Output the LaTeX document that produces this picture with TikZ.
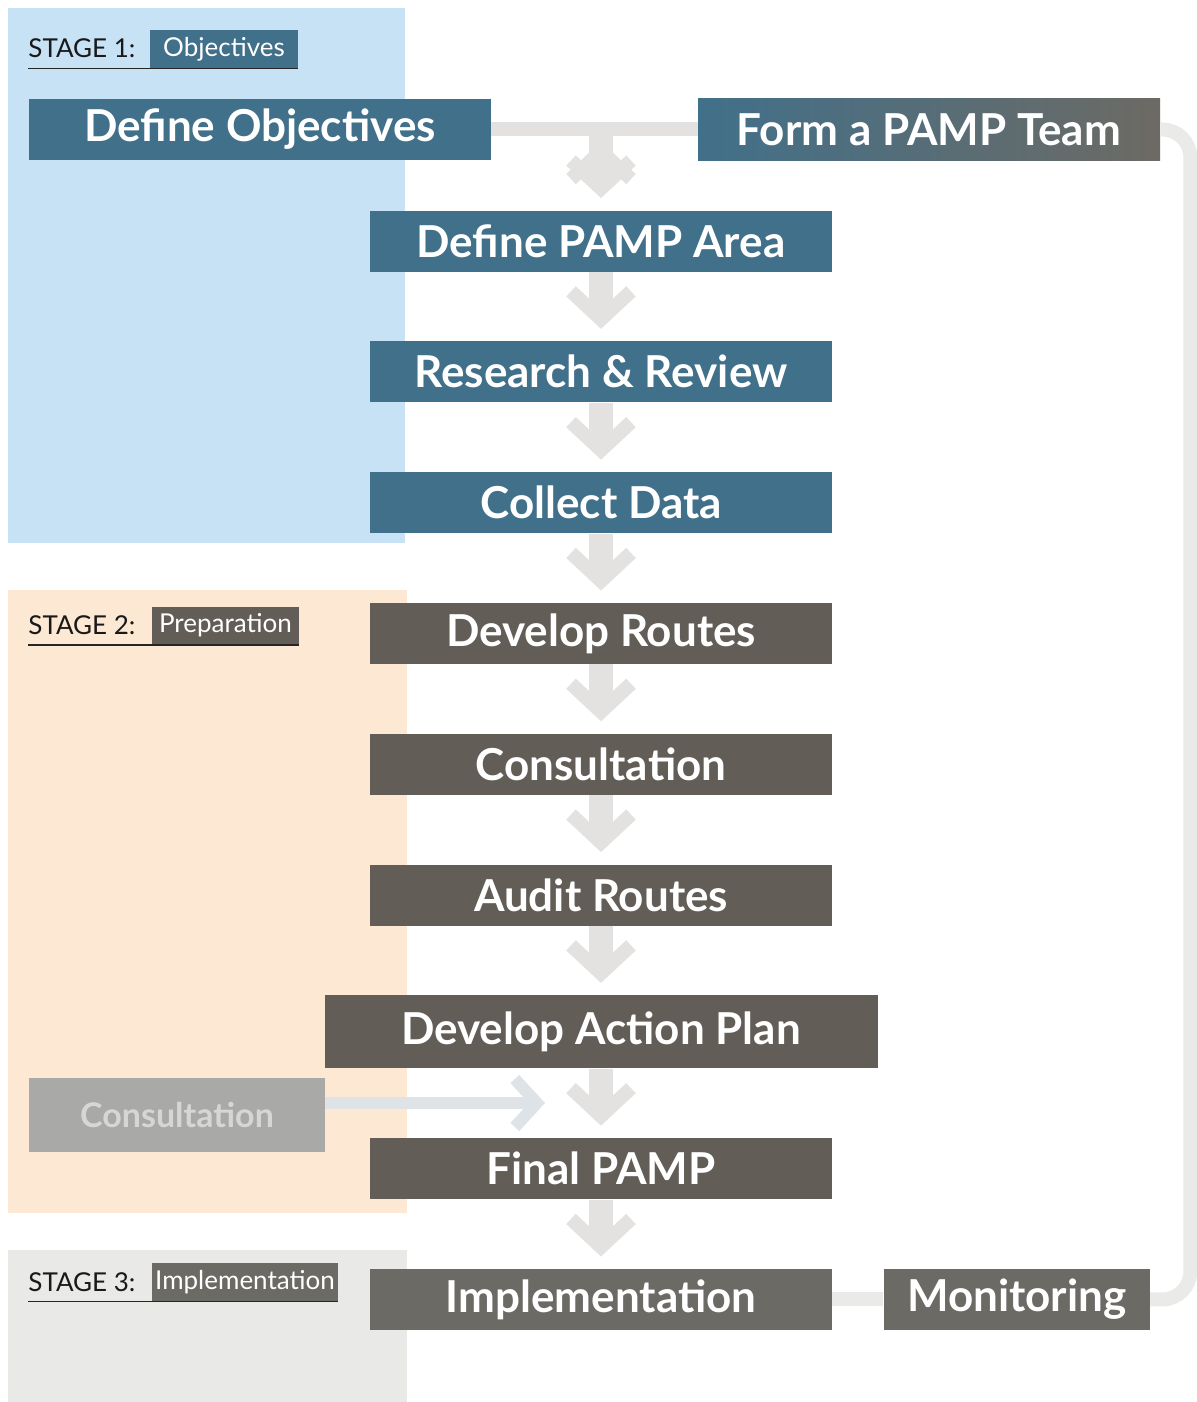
\documentclass[tikz,border=0pt]{standalone}
\usepackage{fontspec}
\setmainfont{Lato}
\usepackage{tikz}
\usetikzlibrary{positioning, calc}
\usetikzlibrary{arrows.meta}
\definecolor{pampblue}{HTML}{41708A}
\definecolor{pampdark}{HTML}{625D56}
\definecolor{pampgrey}{HTML}{6C6A64}
\definecolor{pamplight}{HTML}{A9A9A7}
\definecolor{bgblue}{HTML}{C7E1F5}
\definecolor{bgpeach}{HTML}{FDE9D3}
\definecolor{bggrey}{HTML}{E9E9E7}
\definecolor{flowgrey}{HTML}{E3E2E0}
\definecolor{loopgrey}{HTML}{EAEAE8}
\definecolor{consultflow}{HTML}{DDE3E7}
\tikzstyle{stepbox}=[rectangle,minimum width=231pt,minimum height=30.5pt,
text=white,inner sep=0pt,font=\fontsize{22}{26}\selectfont\bfseries]
\tikzstyle{bluebox}=[stepbox,fill=pampblue]
\tikzstyle{darkbox}=[stepbox,fill=pampdark]
\tikzstyle{greybox}=[stepbox,fill=pampgrey]
\tikzstyle{stagetext}=[anchor=west,inner sep=0pt,text=black!90,
font=\fontsize{13}{15}\selectfont]
\tikzstyle{stagebox}=[rectangle,inner sep=0pt,minimum height=19pt,text=white,
font=\fontsize{13}{15}\selectfont]
\tikzstyle{stageline}=[draw=black!85,line width=0.8pt]
\tikzstyle{flowpath} = [line width=12pt,draw=flowgrey,shorten >=6pt,
-{Straight Barb[length=14pt,width=30pt,line width=7pt]}]
\tikzstyle{linkpath} = [line width=7pt,draw=flowgrey]

\begin{document}
\begin{tikzpicture}[x=0.5pt,y=-0.5pt,node distance=34.5pt]
    \useasboundingbox (0,0) rectangle (1197,1402);
    % stage backgrounds
    \fill[bgblue] (8,8) rectangle (405,543);
    \fill[bgpeach] (8,590) rectangle (407,1213);
    \fill[bggrey] (8,1250) rectangle (407,1402);

    % stage labels
    \node[stagetext] (s1) at (28,48) {STAGE 1:};
    \node[stagebox, fill=pampblue, minimum width=74pt] (s1label) at (224,49) {Objectives};
    \draw[stageline] (s1.west |- s1label.south) -- (s1label.south east);

    \node[stagetext] (s2) at (28,625) {STAGE 2:};
    \node[stagebox, fill=pampdark, minimum width=73.5pt] (s2label) at (225.5,625.5) {Preparation};
    \draw[stageline] (s2.west |- s2label.south) -- (s2label.south east);

    \node[stagetext] (s3) at (28,1282) {STAGE 3:};
    \node[stagebox, fill=pampgrey, minimum width=93pt] (s3label) at (245,1282) {Implementation};
    \draw[stageline] (s3.west |- s3label.south) -- (s3label.south east);

    % top row
    \node[bluebox] (defobj) at (260,129.5) {Define Objectives};
    \node[stepbox, left color=pampblue, right color=pampgrey] (team) at (929,129.5) {Form a PAMP Team};
    \path[linkpath] (defobj) edge (team);

    % main column
    \node[bluebox] (area) at (601,241) {Define PAMP Area};
    \node[bluebox, below=of area] (research) {Research \& Review};
    \node[bluebox, below=of research] (collect) {Collect Data};
    \node[darkbox, below=of collect] (routes) {Develop Routes};
    \node[darkbox, below=of routes] (consult) {Consultation};
    \node[darkbox, below=of consult] (audit) {Audit Routes};
    \node[darkbox, below=of audit, minimum width=276.5pt, minimum height=36.5pt] (action) {Develop Action Plan};
    \node[darkbox, below=of action] (final) {Final PAMP};
    \node[greybox, below=of final] (implement) {Implementation};
    \node[greybox, right=25.5pt of implement, minimum width=133pt] (monitor) {Monitoring};

    \node[stepbox, fill=pamplight, text=black!16, minimum width=148pt, minimum height=37pt,
        font=\fontsize{17}{20}\selectfont\bfseries] (extconsult) at (177,1115) {Consultation};

    \coordinate (split) at (area.north |- defobj.east);
    \coordinate (consultend) at (545,1103);

    \path[flowpath]
        (split) edge (area)
        (area) edge (research)
        (research) edge (collect)
        (collect) edge (routes)
        (routes) edge (consult)
        (consult) edge (audit)
        (audit) edge (action)
        (action) edge (final)
        (final) edge (implement);

    \draw[line width=6pt, draw=consultflow,
        -{Straight Barb[length=11pt,width=24pt,line width=6pt]}]
        (extconsult.east |- consultend) -- (consultend);

    \path[linkpath, draw=loopgrey] (implement) edge (monitor);
    \draw[linkpath, draw=loopgrey, rounded corners=14pt]
        (monitor.east) -| ($(team.east)+(30,0)$) -- (team.east);
\end{tikzpicture}
\end{document}
